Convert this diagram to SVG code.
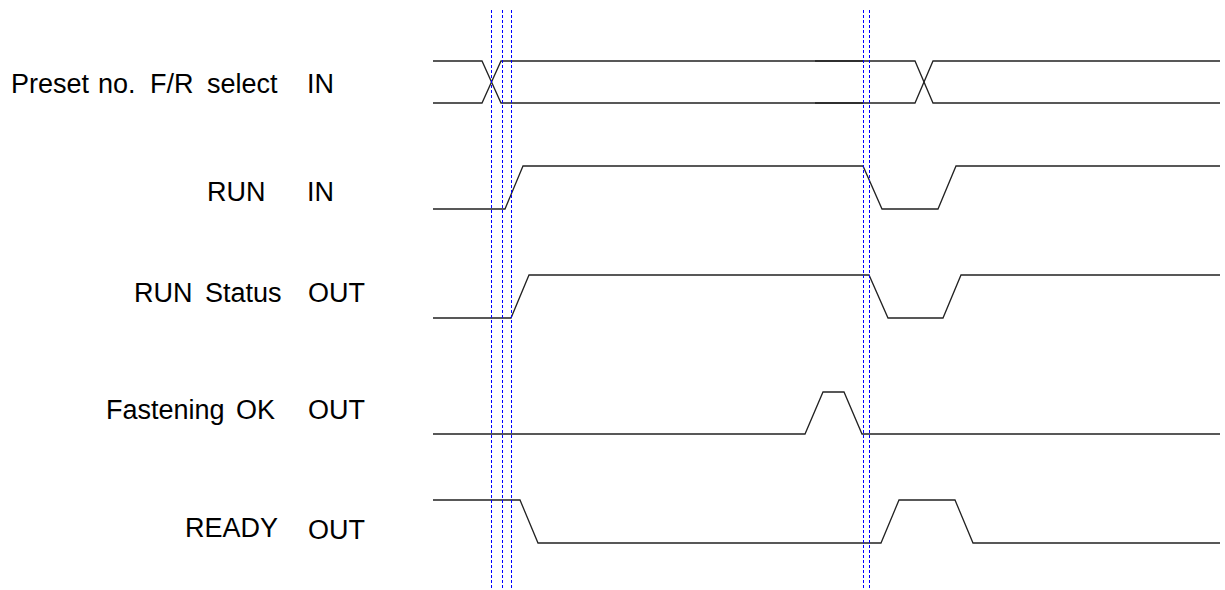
<svg xmlns="http://www.w3.org/2000/svg" width="1225" height="590" viewBox="0 0 1225 590">
<style>
.lbl{font-family:"Liberation Sans",Arial,sans-serif;font-size:27px;fill:#000}
.wave{fill:none;stroke:#222;stroke-width:1.3}
.mark{fill:none;stroke:#0000ff;stroke-width:1;stroke-dasharray:3 2}
</style>
<rect width="1225" height="590" fill="#fff"/>
<g id="preset">
<text class="lbl" y="93"><tspan x="11">Preset</tspan><tspan x="98">no.</tspan><tspan x="150">F/R</tspan><tspan x="207">select</tspan><tspan x="307">IN</tspan></text>
<path class="wave" d="M433,61 H482 L501,103 H915 L933,61 H1220"/>
<path class="wave" d="M433,103 H482 L501,61 H915 L933,103 H1220"/>
<path class="wave" d="M815,61 H863 M815,103 H863"/>
</g>
<g id="run">
<text class="lbl" y="201"><tspan x="207">RUN</tspan><tspan x="307">IN</tspan></text>
<path class="wave" d="M433,209 H505 L523,166 H863 L882,209 H938 L956,166 H1220"/>
</g>
<g id="run-status">
<text class="lbl" y="302"><tspan x="134">RUN</tspan><tspan x="205">Status</tspan><tspan x="308">OUT</tspan></text>
<path class="wave" d="M433,318 H511 L529,275 H869 L888,318 H943 L961,275 H1220"/>
</g>
<g id="fastening-ok">
<text class="lbl" y="419"><tspan x="106">Fastening</tspan><tspan x="236">OK</tspan><tspan x="308">OUT</tspan></text>
<path class="wave" d="M433,434 H805 L823,392 H844 L862,434 H1220"/>
</g>
<g id="ready">
<text class="lbl" y="537"><tspan x="185">READY</tspan><tspan x="308" dy="1.5">OUT</tspan></text>
<path class="wave" d="M433,500 H520 L538,543 H881 L899,500 H955 L973,543 H1220"/>
</g>
<g id="connectors">
<path class="mark" d="M491.5,10 V588 M502.5,10 V588 M511.5,10 V588 M863.5,10 V588 M869.5,10 V588"/>
</g>
</svg>
